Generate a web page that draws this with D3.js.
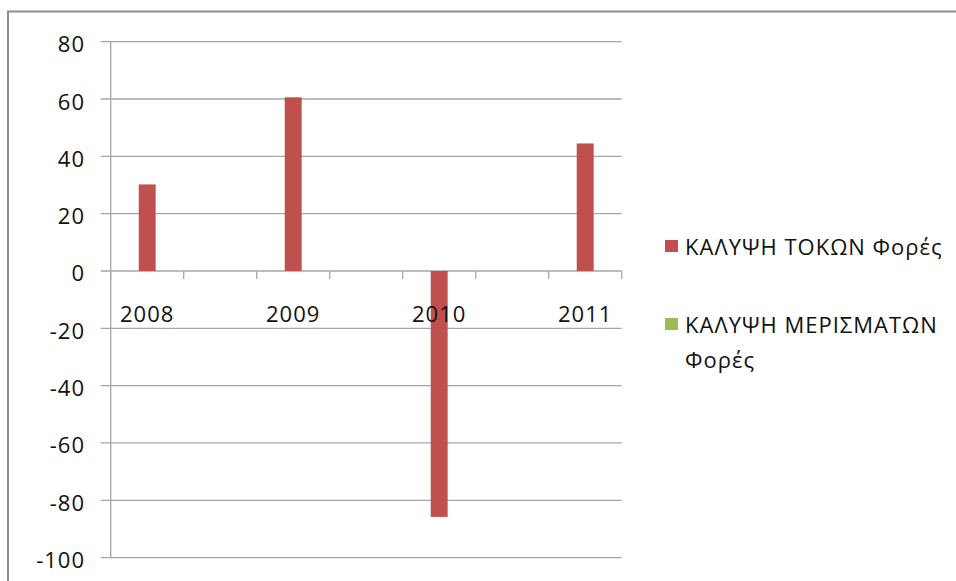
<!DOCTYPE html>
<html>
<head>
<meta charset="utf-8">
<script src="https://cdn.jsdelivr.net/npm/d3@7/dist/d3.min.js"></script>
<style>
  html, body { margin: 0; padding: 0; background: #fff; }
  svg { display: block; }
  text { font-family: "Open Sans", "Noto Sans", sans-serif; fill: #111; letter-spacing: 1px; }
</style>
</head>
<body>
<svg id="chart" width="956" height="581"></svg>
<script>
// Categories along the x axis (blank slots separate the years)
const categories = ["2008", "", "2009", "", "2010", "", "2011"];
// Series values
const interestCoverage = [30.2, null, 60.6, null, -85.8, null, 44.5];
const dividendCoverage = [null, null, null, null, null, null, null];
// Y axis tick values
const yTicks = [80, 60, 40, 20, 0, -20, -40, -60, -80, -100];
// Legend labels (second label wraps onto two lines)
const seriesNames = ["ΚΑΛΥΨΗ ΤΟΚΩΝ Φορές", "ΚΑΛΥΨΗ ΜΕΡΙΣΜΑΤΩΝ Φορές"];
const seriesColors = ["#C0504D", "#9BBB59"];

const svg = d3.select("#chart");

// Outer chart frame
svg.append("path")
  .attr("d", "M8,590 L8,11.5 L970,11.5")
  .attr("fill", "none")
  .attr("stroke", "#8e8e8e")
  .attr("stroke-width", 2);

const plot = { left: 110.7, right: 621.7, top: 41.7, bottom: 557.6 };

const y = d3.scaleLinear().domain([-100, 80]).range([plot.bottom, plot.top]);
const x = d3.scaleBand().domain(d3.range(categories.length)).range([plot.left, plot.right]).padding(0);

const gridColor = "#a6a6a6";
const fontSize = 22;

// Horizontal gridlines with outside tick marks on the left
svg.append("g")
  .selectAll("line")
  .data(yTicks)
  .join("line")
  .attr("x1", plot.left - 10)
  .attr("x2", plot.right)
  .attr("y1", d => y(d))
  .attr("y2", d => y(d))
  .attr("stroke", gridColor)
  .attr("stroke-width", 1.3);

// Y axis line
svg.append("line")
  .attr("x1", plot.left).attr("x2", plot.left)
  .attr("y1", plot.top).attr("y2", plot.bottom)
  .attr("stroke", gridColor)
  .attr("stroke-width", 1.3);

// Y tick labels
svg.append("g")
  .selectAll("text")
  .data(yTicks)
  .join("text")
  .attr("x", 85)
  .attr("y", d => y(d) + 1.5)
  .attr("text-anchor", "end")
  .attr("dominant-baseline", "central")
  .attr("font-size", fontSize)
  .text(d => d);

// Category axis on zero line with tick marks between categories
const boundaries = d3.range(categories.length + 1).map(i => plot.left + i * x.bandwidth());
svg.append("g")
  .selectAll("line")
  .data(boundaries)
  .join("line")
  .attr("x1", d => d).attr("x2", d => d)
  .attr("y1", y(0)).attr("y2", y(0) + 8)
  .attr("stroke", gridColor)
  .attr("stroke-width", 1.3);

// Bars for the interest coverage series
const barW = x.bandwidth() * 0.232;
svg.append("g")
  .selectAll("rect")
  .data(interestCoverage.map((v, i) => ({ v, i })).filter(d => d.v != null))
  .join("rect")
  .attr("x", d => x(d.i) + x.bandwidth() / 2 - barW / 2)
  .attr("width", barW)
  .attr("y", d => y(Math.max(0, d.v)))
  .attr("height", d => Math.abs(y(d.v) - y(0)))
  .attr("fill", seriesColors[0]);

// Bars for the dividend coverage series (no values)
svg.append("g")
  .selectAll("rect")
  .data(dividendCoverage.map((v, i) => ({ v, i })).filter(d => d.v != null))
  .join("rect")
  .attr("x", d => x(d.i) + x.bandwidth() / 2 - barW / 2)
  .attr("width", barW)
  .attr("y", d => y(Math.max(0, d.v)))
  .attr("height", d => Math.abs(y(d.v) - y(0)))
  .attr("fill", seriesColors[1]);

// Category labels
svg.append("g")
  .selectAll("text")
  .data(categories.map((c, i) => ({ c, i })).filter(d => d.c !== ""))
  .join("text")
  .attr("x", d => x(d.i) + x.bandwidth() / 2)
  .attr("y", 313)
  .attr("text-anchor", "middle")
  .attr("dominant-baseline", "central")
  .attr("font-size", fontSize)
  .text(d => d.c);

// Legend
const legend = svg.append("g");
const legendRows = [
  { lines: ["ΚΑΛΥΨΗ ΤΟΚΩΝ Φορές"], y: 246, color: seriesColors[0] },
  { lines: ["ΚΑΛΥΨΗ ΜΕΡΙΣΜΑΤΩΝ", "Φορές"], y: 324, color: seriesColors[1] }
];
legendRows.forEach(row => {
  legend.append("rect")
    .attr("x", 665).attr("y", row.y - 6)
    .attr("width", 13).attr("height", 12)
    .attr("fill", row.color);
  row.lines.forEach((ln, k) => {
    legend.append("text")
      .attr("x", 685)
      .attr("y", row.y + k * 34.5)
      .attr("dominant-baseline", "central")
      .attr("font-size", fontSize)
      .text(ln);
  });
});
</script>
</body>
</html>
